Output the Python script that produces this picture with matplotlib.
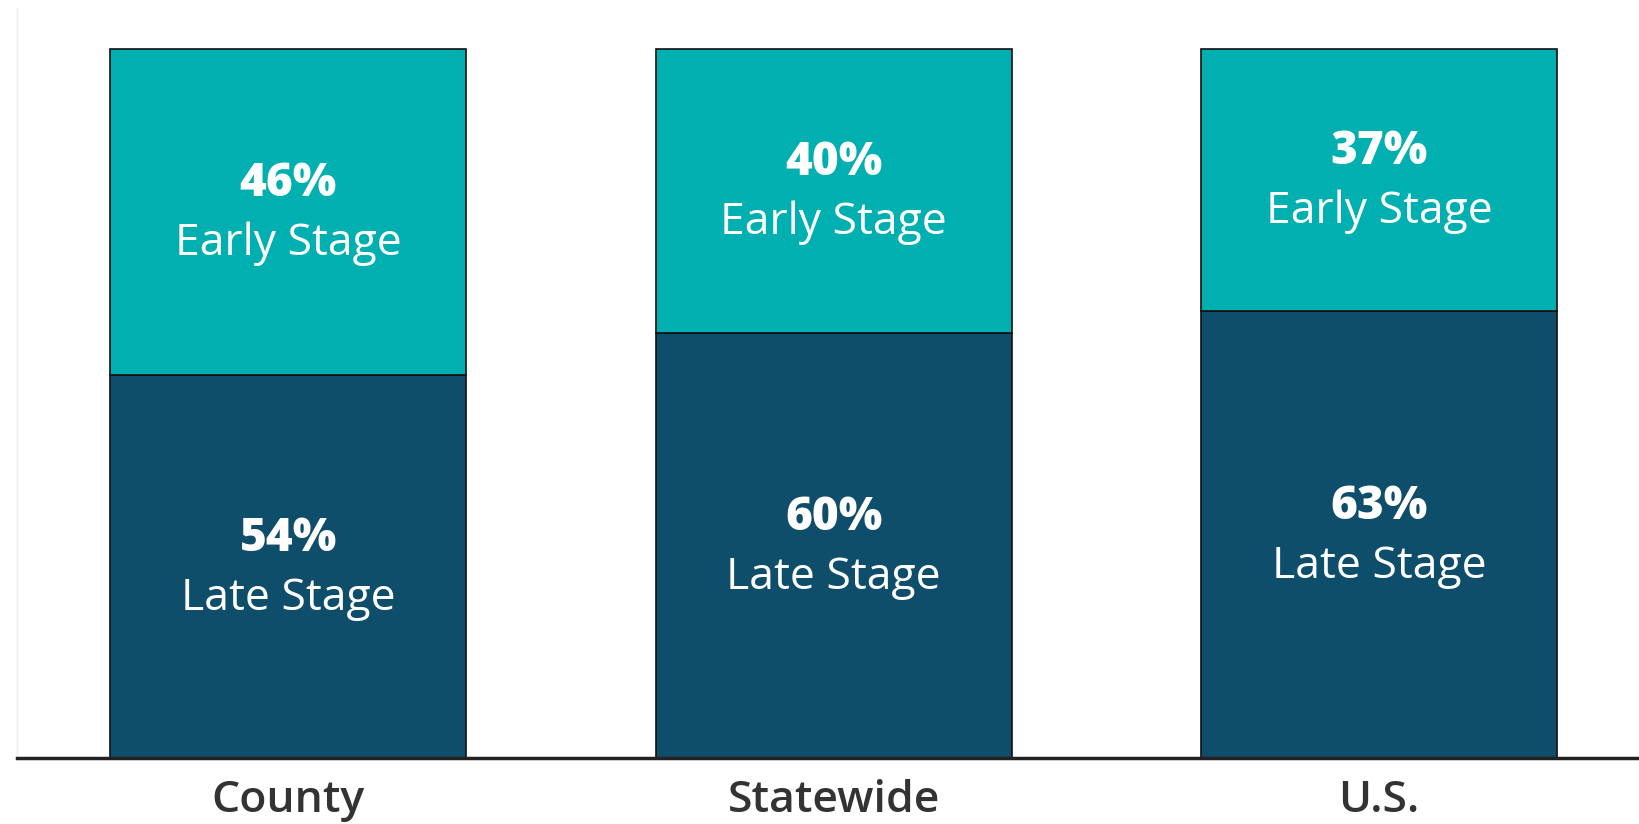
import matplotlib.pyplot as plt
import numpy as np

# Data
categories = ["County", "Statewide", "U.S."]
late_stage = [54, 60, 63]
early_stage = [46, 40, 37]

teal = "#00B0B0"
navy = "#0E4E6A"

plt.rcParams["font.family"] = ["Open Sans", "DejaVu Sans"]

fig = plt.figure(figsize=(16.4, 8.24), dpi=100)
ax = fig.add_axes([17 / 1640, 66 / 824, 1 - 17 / 1640, 750 / 824])

x = np.arange(len(categories))
width = 0.653

ax.bar(x, late_stage, width, color=navy, edgecolor="#111111", linewidth=1.2)
ax.bar(x, early_stage, width, bottom=late_stage, color=teal, edgecolor="#111111", linewidth=1.2)

# Segment labels
for xi, late, early in zip(x, late_stage, early_stage):
    for mid, val, name in [(late / 2, late, "Late Stage"), (late + early / 2, early, "Early Stage")]:
        ax.annotate(f"{val}%", (xi, mid), xytext=(0, 20), textcoords="offset points",
                    ha="center", va="center", color="white", fontsize=33, fontweight="heavy")
        ax.annotate(name, (xi, mid), xytext=(0, -23), textcoords="offset points",
                    ha="center", va="center", color="white", fontsize=32, fontweight="medium")

ax.set_xlim(-0.497, 2.478)
ax.set_ylim(0, 105.8)
ax.set_xticks(x)
ax.set_xticklabels(categories, fontsize=32, color="#333333", fontweight="semibold")
ax.tick_params(axis="x", length=0, pad=15)
ax.set_yticks([])

ax.spines["top"].set_visible(False)
ax.spines["right"].set_visible(False)
ax.spines["left"].set_color("#EEEEEE")
ax.spines["left"].set_linewidth(1)
ax.spines["bottom"].set_color("#222222")
ax.spines["bottom"].set_linewidth(2.5)

fig.savefig("out.png", dpi=100)
